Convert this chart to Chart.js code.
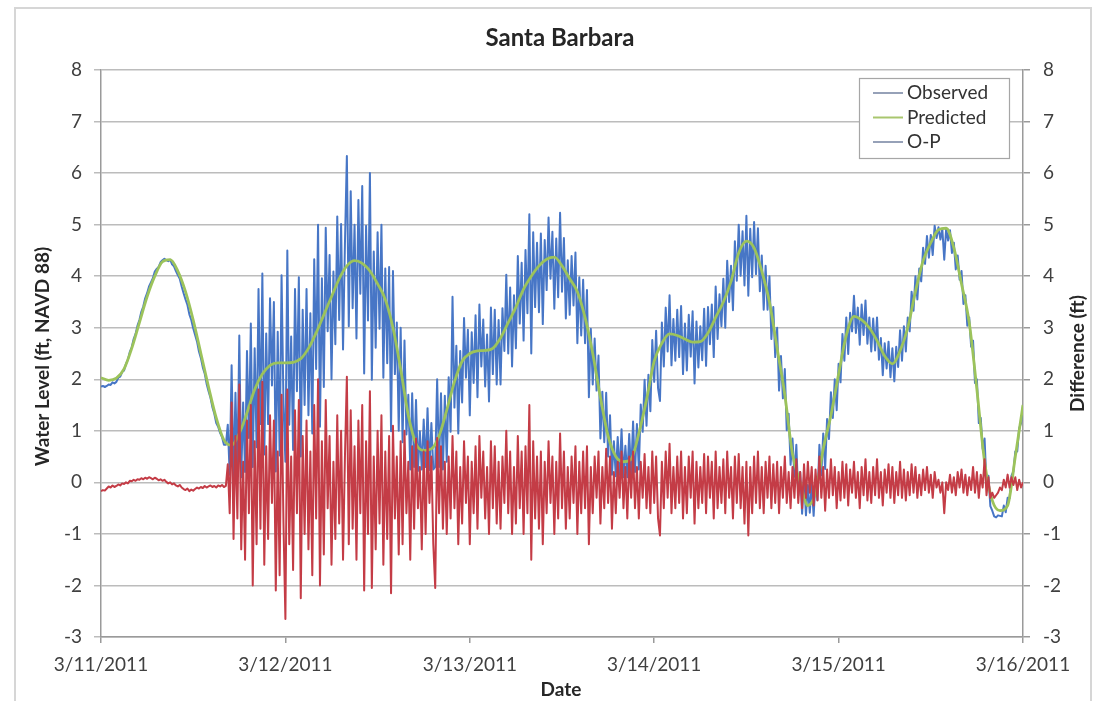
<!DOCTYPE html>
<html>
<head>
<meta charset="utf-8">
<title>Santa Barbara</title>
<script src="https://cdn.jsdelivr.net/npm/chart.js@4.4.0/dist/chart.umd.min.js"></script>
<style>
  html, body { margin: 0; padding: 0; background: #ffffff; }
  canvas { display: block; }
</style>
</head>
<body>
<canvas id="tide" width="1100" height="701"></canvas>
<script>
// Day labels for the x axis (one tick every 24 hours from 3/11/2011 00:00)
const dateLabels = ['3/11/2011', '3/12/2011', '3/13/2011', '3/14/2011', '3/15/2011', '3/16/2011'];

// Sampling interval of each record, in hours
const obsStepHours = 0.25;
const predStepHours = 1;

// Observed water level (ft, NAVD 88), every 15 minutes
const observed = [
  1.86,1.87,1.85,1.87, 1.90,1.89,1.94,1.92, 1.95,2.03,2.05,2.14, 2.17,2.30,2.38,2.53,
  2.62,2.78,2.88,3.04, 3.15,3.31,3.41,3.57, 3.67,3.80,3.88,3.96, 4.09,4.14,4.18,4.27,
  4.31,4.34,4.31,4.29, 4.32,4.23,4.19,4.10, 4.02,3.95,3.80,3.67, 3.55,3.44,3.26,3.15,
  2.99,2.86,2.73,2.54, 2.41,2.23,2.11,1.91, 1.77,1.64,1.46,1.33, 1.15,1.08,0.96,0.88,
  0.73,0.73,1.12,0.15, 2.27,0.05,1.74,0.19, 2.85,0.10,1.55,0.20, 2.55,0.86,3.08,0.30,
  2.60,0.68,3.75,1.13, 4.05,0.54,2.89,1.13, 3.57,1.88,3.50,0.21, 2.92,0.52,4.02,1.52,
  0.40,4.50,1.12,2.83, 0.63,3.75,1.77,3.98, 0.50,3.35,1.50,3.75, 1.30,3.28,0.95,4.33,
  2.20,5.00,1.08,3.96, 1.85,4.94,2.93,4.41, 2.00,4.09,2.68,5.16, 3.15,5.01,2.58,4.64,
  6.33,3.03,5.65,3.38, 5.00,2.79,5.48,3.66, 5.75,2.11,4.98,3.14, 6.00,1.99,4.48,2.61,
  4.85,2.98,5.00,2.03, 4.15,2.31,4.18,0.99, 4.10,2.10,3.10,1.00, 3.00,0.78,2.75,0.93,
  1.70,0.25,1.73,0.30, 1.60,0.22,0.99,0.25, 1.22,0.30,1.44,0.24, 1.15,0.25,0.30,2.00,
  0.30,1.73,0.25,1.68, 0.40,2.04,0.98,3.60, 1.45,2.65,0.95,2.55, 1.55,3.19,2.03,2.96,
  1.30,2.91,1.93,3.24, 1.65,3.45,2.25,3.16, 1.86,2.87,1.57,3.39, 2.10,3.35,1.90,3.15,
  1.90,3.38,2.55,4.03, 2.50,3.78,2.25,3.63, 2.60,4.39,3.08,4.26, 2.75,4.51,3.28,5.20,
  2.50,4.85,3.40,4.65, 3.30,4.83,3.07,4.70, 3.73,5.14,3.95,4.86, 3.37,4.73,3.59,5.23,
  3.70,4.74,3.18,4.31, 3.25,4.39,3.43,4.46, 2.70,3.98,2.85,3.93, 2.70,3.73,1.65,2.98,
  1.90,2.79,1.78,2.46, 0.85,1.76,0.78,1.74, 0.50,1.30,0.15,0.80, 0.12,0.88,0.15,1.03,
  0.10,0.71,0.10,0.94, 0.15,1.18,0.20,1.13, 0.25,1.51,0.98,1.99, 1.10,2.09,1.38,2.76,
  1.95,2.94,1.83,1.58, 3.10,2.25,3.39,2.54, 3.63,2.27,3.17,2.36, 3.35,2.43,3.42,2.10,
  3.08,2.17,3.25,2.44, 3.32,1.92,3.12,2.23, 3.03,2.37,3.37,2.26, 3.40,2.68,3.45,2.43,
  3.80,2.78,3.65,3.03, 3.95,3.00,4.30,3.50, 4.20,3.34,4.68,3.91, 5.00,4.01,4.87,3.82,
  5.17,3.62,4.92,3.98, 5.05,4.04,4.93,3.71, 4.40,3.35,4.20,3.35, 4.00,2.78,3.40,2.43,
  3.00,1.78,2.45,1.63, 2.20,1.01,1.33,0.34, 0.85,0.11,0.73,-0.26, 0.20,-0.61,0.13,-0.64,
  -0.05,-0.59,-0.03,-0.65, 0.05,-0.34,0.73,0.14, 0.95,0.26,1.23,0.84, 1.75,1.25,2.00,1.40,
  2.30,1.94,2.88,2.36, 3.20,2.49,3.29,2.93, 3.62,2.90,3.39,2.67, 3.45,2.86,3.53,2.69,
  3.20,2.54,3.18,2.56, 3.20,2.38,2.80,2.08, 2.70,2.21,2.73,2.04, 2.60,1.96,2.63,2.24,
  2.95,2.36,3.03,2.54, 3.20,2.93,3.70,3.33, 4.00,3.55,4.15,3.90, 4.55,4.24,4.78,4.36,
  4.80,4.41,4.98,4.74, 4.95,4.71,4.92,4.32, 4.93,4.69,4.89,4.45, 4.65,4.13,4.40,3.93,
  4.10,3.46,3.63,3.04, 3.20,2.63,2.75,1.93, 2.00,1.15,1.25,0.65, 0.85,-0.04,0.13,-0.46,
  -0.55,-0.66,-0.68,-0.64, -0.65,-0.66,-0.45,-0.58, -0.30,-0.31,0.13,0.21, 0.60,0.60,1.05,1.15,
  1.50
];

// Predicted astronomical tide (ft, NAVD 88), hourly
const predicted = [
  2.03,1.98,2.02,2.20,2.60,3.10,3.60,4.00,4.28,4.32,
  4.10,3.70,3.15,2.50,1.85,1.25,0.82,0.72,0.95,1.35,
  1.80,2.10,2.27,2.32,2.32,2.33,2.40,2.60,2.90,3.25,
  3.60,3.95,4.20,4.30,4.25,4.10,3.85,3.55,3.00,2.20,
  1.30,0.75,0.62,0.65,0.90,1.40,1.95,2.35,2.50,2.55,
  2.56,2.60,2.80,3.10,3.40,3.75,4.00,4.20,4.33,4.37,
  4.20,3.95,3.70,3.20,2.50,1.65,0.90,0.50,0.40,0.45,
  0.95,1.60,2.35,2.70,2.88,2.85,2.78,2.72,2.73,2.90,
  3.20,3.50,3.90,4.45,4.68,4.55,4.10,3.50,2.60,1.70,
  0.55,0.00,-0.45,-0.20,0.65,1.30,2.10,2.85,3.22,3.15,
  3.00,2.75,2.45,2.30,2.55,3.00,3.70,4.30,4.65,4.90,
  4.93,4.55,3.85,3.10,1.80,0.40,-0.35,-0.55,-0.45,0.50,
  1.50
];

// Observed minus predicted (ft), every 15 minutes
const difference = [
  -0.17,-0.15,-0.16,-0.12, -0.08,-0.10,-0.06,-0.09, -0.07,-0.04,-0.06,-0.02, -0.03,0.00,-0.02,0.03,
  0.02,0.05,0.03,0.06, 0.05,0.08,0.06,0.09, 0.07,0.10,0.08,0.06, 0.09,0.07,0.04,0.06,
  0.03,0.05,0.01,-0.02, 0.00,-0.04,-0.02,-0.06, -0.08,-0.05,-0.10,-0.13, -0.15,-0.12,-0.17,-0.14,
  -0.16,-0.13,-0.10,-0.12, -0.09,-0.11,-0.07,-0.10, -0.08,-0.06,-0.09,-0.07, -0.10,-0.06,-0.08,-0.05,
  -0.09,-0.07,0.35,-0.60, 1.55,-1.10,0.90,-0.70, 1.90,-1.30,0.40,-1.50, 1.20,-0.60,1.50,-2.00,
  0.80,-1.20,1.80,-0.90, 1.95,-1.60,0.70,-1.10, 1.30,-0.40,1.20,-2.10, 0.60,-1.80,1.70,-0.80,
  -2.65,1.80,-1.20,0.50, -1.70,1.40,-0.60,1.60, -2.25,0.90,-1.00,1.20, -1.30,0.60,-1.80,1.50,
  -0.70,2.00,-2.00,0.80, -1.40,1.60,-0.50,0.90, -1.60,0.40,-1.10,1.30, -0.80,1.00,-1.50,0.50,
  2.05,-1.20,1.40,-0.90, 0.70,-1.50,1.20,-0.60, 1.50,-2.10,0.80,-1.00, 1.77,-2.05,0.50,-1.30,
  1.00,-0.80,1.30,-1.60, 0.60,-1.10,0.90,-2.15, 1.10,-0.70,0.50,-1.40, 0.80,-1.20,1.00,-0.60,
  0.40,-1.50,0.70,-0.90, 0.85,-0.50,0.30,-1.30, 0.60,-1.00,0.80,-0.40, 0.50,-1.20,-2.05,0.86,
  -0.60,0.70,-0.90,0.40, -1.00,0.50,-0.70,0.90, -0.50,0.60,-1.20,0.30, -0.80,0.80,-0.40,0.50,
  -1.20,0.40,-0.60,0.70, -0.90,0.90,-0.30,0.60, -0.70,0.30,-1.00,0.80, -0.50,0.70,-0.80,0.40,
  -0.90,0.50,-0.40,1.00, -0.60,0.60,-1.00,0.30, -0.80,0.90,-0.50,0.60, -1.00,0.70,-0.60,1.50,
  -1.50,0.80,-0.70,0.50, -0.90,0.60,-1.20,0.40, -0.60,0.80,-0.40,0.50, -1.00,0.40,-0.70,0.95,
  -0.50,0.60,-0.90,0.30, -0.70,0.50,-0.40,0.70, -1.00,0.40,-0.60,0.60, -0.50,0.70,-1.20,0.30,
  -0.60,0.50,-0.30,0.60, -0.80,0.30,-0.50,0.65, -0.40,0.50,-0.90,0.20, -0.60,0.40,-0.30,0.60,
  -0.50,0.30,-0.70,0.50, -0.30,0.60,-0.50,0.30, -0.70,0.40,-0.30,0.55, -0.50,0.30,-0.60,0.60,
  -0.40,0.50,-0.70,-1.03, 0.40,-0.50,0.60,-0.30, 0.75,-0.60,0.30,-0.50, 0.50,-0.40,0.60,-0.70,
  0.30,-0.60,0.50,-0.30, 0.60,-0.80,0.40,-0.50, 0.30,-0.40,0.55,-0.60, 0.50,-0.30,0.40,-0.70,
  0.60,-0.50,0.30,-0.40, 0.45,-0.60,0.60,-0.30, 0.30,-0.70,0.50,-0.40, 0.55,-0.50,0.30,-0.80,
  0.40,-1.03,0.30,-0.60, 0.50,-0.40,0.60,-0.50, 0.30,-0.60,0.40,-0.30, 0.50,-0.50,0.35,-0.40,
  0.40,-0.60,0.30,-0.30, 0.50,-0.40,0.20,-0.50, 0.30,-0.30,0.45,-0.40, 0.20,-0.50,0.35,-0.30,
  0.40,-0.20,0.30,-0.45, 0.25,-0.35,0.50,-0.30, 0.30,-0.55,0.25,-0.30, 0.45,-0.25,0.30,-0.50,
  0.20,-0.35,0.40,-0.30, 0.35,-0.45,0.25,-0.20, 0.40,-0.30,0.20,-0.50, 0.30,-0.25,0.45,-0.35,
  0.20,-0.40,0.30,-0.25, 0.45,-0.30,0.20,-0.45, 0.25,-0.20,0.35,-0.30, 0.30,-0.40,0.20,-0.25,
  0.40,-0.30,0.25,-0.35, 0.20,-0.25,0.35,-0.20, 0.30,-0.30,0.15,-0.25, 0.25,-0.15,0.30,-0.20,
  0.15,-0.30,0.20,-0.10, 0.05,-0.20,0.00,-0.60, 0.00,-0.15,0.15,-0.20, 0.10,-0.25,0.20,-0.10,
  0.25,-0.20,0.15,-0.25, 0.10,-0.15,0.30,-0.20, 0.20,-0.30,0.15,-0.10, 0.45,-0.25,0.10,-0.30,
  -0.20,-0.30,-0.25,-0.20, -0.10,-0.15,0.05,-0.10, 0.15,-0.10,0.10,-0.05, 0.10,-0.15,0.05,-0.10,
  0.00
];

const chartTitle = 'Santa Barbara';
const xTitle = 'Date';
const yTitle = 'Water Level (ft, NAVD 88)';
const y2Title = 'Difference (ft)';
const seriesNames = ['Observed', 'Predicted', 'O-P'];
const seriesColors = ['#4776c6', '#9cc35b', '#c43c46'];
const legendLineColors = ['#5d6f92', '#a9c66e', '#5d6f92'];

const FONT = 'Lato, "Open Sans", "Liberation Sans", sans-serif';
const toPoints = (vals, step) => vals.map((v, i) => ({ x: i * step, y: v }));

// White background and the light outer frame of the chart
const framePlugin = {
  id: 'frame',
  beforeDraw(chart) {
    const c = chart.ctx;
    c.save();
    c.fillStyle = '#ffffff';
    c.fillRect(0, 0, chart.width, chart.height);
    c.strokeStyle = '#d6d6d6';
    c.lineWidth = 2;
    c.strokeRect(15, 8, 1076, 720);
    c.restore();
  }
};

// Chart title and axis titles
const captionPlugin = {
  id: 'captions',
  afterDraw(chart) {
    const c = chart.ctx;
    const a = chart.chartArea;
    const midX = (a.left + a.right) / 2;
    const midY = (a.top + a.bottom) / 2;
    c.save();
    c.fillStyle = '#262626';
    c.textAlign = 'center';
    c.textBaseline = 'middle';
    c.font = 'bold 24px ' + FONT;
    c.fillText(chartTitle, midX - 2, 38);
    c.font = 'bold 19px ' + FONT;
    c.fillText(xTitle, midX - 1, 690);
    c.save();
    c.translate(43, midY + 3);
    c.rotate(-Math.PI / 2);
    c.fillText(yTitle, 0, 0);
    c.restore();
    c.save();
    c.translate(1078, midY);
    c.rotate(-Math.PI / 2);
    c.fillText(y2Title, 0, 0);
    c.restore();
    c.restore();
  }
};

// Boxed legend in the upper right of the plot
const legendPlugin = {
  id: 'boxLegend',
  afterDatasetsDraw(chart) {
    const c = chart.ctx;
    const a = chart.chartArea;
    const boxW = 150, boxH = 80;
    const bx = a.right - 164, by = a.top + 8;
    c.save();
    c.fillStyle = '#ffffff';
    c.fillRect(bx, by, boxW, boxH);
    c.strokeStyle = '#a6a6a6';
    c.lineWidth = 1.2;
    c.strokeRect(bx + 0.5, by + 0.5, boxW, boxH);
    c.font = '19px ' + FONT;
    c.textAlign = 'left';
    c.textBaseline = 'middle';
    seriesNames.forEach((name, i) => {
      const y = by + 15 + i * 24.5;
      c.strokeStyle = legendLineColors[i];
      c.lineWidth = i === 1 ? 2 : 1.3;
      c.beginPath();
      c.moveTo(bx + 14, y);
      c.lineTo(bx + 44, y);
      c.stroke();
      c.fillStyle = '#333333';
      c.fillText(name, bx + 48, y);
    });
    c.restore();
  }
};

const tickFont = { family: FONT, size: 19 };

new Chart(document.getElementById('tide'), {
  type: 'line',
  data: {
    datasets: [
      {
        label: seriesNames[0],
        data: toPoints(observed, obsStepHours),
        borderColor: seriesColors[0],
        borderWidth: 2,
        yAxisID: 'y',
        order: 3
      },
      {
        label: seriesNames[1],
        data: toPoints(predicted, predStepHours),
        borderColor: seriesColors[1],
        borderWidth: 2.8,
        cubicInterpolationMode: 'monotone',
        yAxisID: 'y',
        order: 2
      },
      {
        label: seriesNames[2],
        data: toPoints(difference, obsStepHours),
        borderColor: seriesColors[2],
        borderWidth: 2,
        yAxisID: 'y2',
        order: 1
      }
    ]
  },
  options: {
    responsive: false,
    animation: false,
    devicePixelRatio: 1,
    elements: {
      point: { radius: 0, hoverRadius: 0 },
      line: { fill: false, borderJoinStyle: 'round', tension: 0 }
    },
    layout: { padding: { top: 70, left: 0, right: 0, bottom: 0 } },
    plugins: {
      legend: { display: false },
      tooltip: { enabled: false },
      title: { display: false }
    },
    scales: {
      x: {
        type: 'linear',
        min: 0,
        max: 120,
        afterFit(scale) { scale.height = 64; },
        grid: { drawOnChartArea: false, drawTicks: true, tickLength: 6, color: '#9a9a9a', lineWidth: 1.5 },
        border: { color: '#9a9a9a', width: 1.5 },
        ticks: {
          stepSize: 24,
          autoSkip: false,
          maxRotation: 0,
          padding: 10,
          color: '#404040',
          font: tickFont,
          callback: (v) => dateLabels[Math.round(v / 24)]
        }
      },
      y: {
        position: 'left',
        min: -3,
        max: 8,
        afterFit(scale) { scale.width = 101; },
        grid: { color: '#bcbcbc', lineWidth: 1.5, tickLength: 7 },
        border: { color: '#9a9a9a', width: 1.5 },
        ticks: { stepSize: 1, padding: 12, color: '#404040', font: tickFont }
      },
      y2: {
        position: 'right',
        min: -3,
        max: 8,
        afterFit(scale) { scale.width = 77; },
        grid: { drawOnChartArea: false, color: '#9a9a9a', lineWidth: 1.5, tickLength: 7 },
        border: { color: '#9a9a9a', width: 1.5 },
        ticks: { stepSize: 1, padding: 13, color: '#404040', font: tickFont }
      }
    }
  },
  plugins: [framePlugin, captionPlugin, legendPlugin]
});
</script>
</body>
</html>
